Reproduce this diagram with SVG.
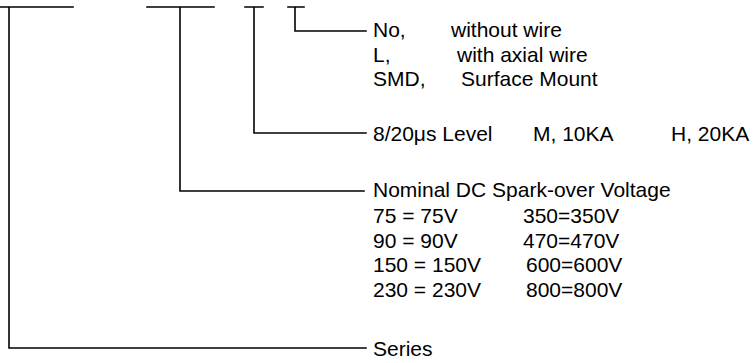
<svg xmlns="http://www.w3.org/2000/svg" width="753" height="363" viewBox="0 0 753 363">
<style>
.ln{stroke:#000;stroke-width:1.6;fill:none;stroke-linecap:square}
.t{font-family:"Liberation Sans",Arial,sans-serif;font-size:21px;fill:#000}
</style>
<rect width="753" height="363" fill="#fff"/>
<g id="connectors">
<path class="ln" d="M0,7H73M9,7V348H366"/>
<path class="ln" d="M147,7H214M180,7V191H364"/>
<path class="ln" d="M245,7H263M254,7V133H366"/>
<path class="ln" d="M288,7H304M295,7V31H366"/>
</g>
<g id="node-lead">
<text class="t" x="373" y="37">No,</text><text class="t" x="451" y="37">without wire</text>
<text class="t" x="373" y="62">L,</text><text class="t" x="457" y="62">with axial wire</text>
<text class="t" x="373" y="86">SMD,</text><text class="t" x="461" y="86">Surface Mount</text>
</g>
<g id="node-level">
<text class="t" x="373" y="141">8/20μs Level</text>
<text class="t" x="533" y="141">M, 10KA</text>
<text class="t" x="671" y="141">H, 20KA</text>
</g>
<g id="node-voltage">
<text class="t" x="373" y="197">Nominal DC Spark-over Voltage</text>
<text class="t" x="373" y="223">75 = 75V</text><text class="t" x="523" y="223">350=350V</text>
<text class="t" x="373" y="248">90 = 90V</text><text class="t" x="523" y="248">470=470V</text>
<text class="t" x="373" y="272">150 = 150V</text><text class="t" x="526" y="272">600=600V</text>
<text class="t" x="373" y="297">230 = 230V</text><text class="t" x="526" y="297">800=800V</text>
</g>
<g id="node-series">
<text class="t" x="373" y="356">Series</text>
</g>
</svg>
